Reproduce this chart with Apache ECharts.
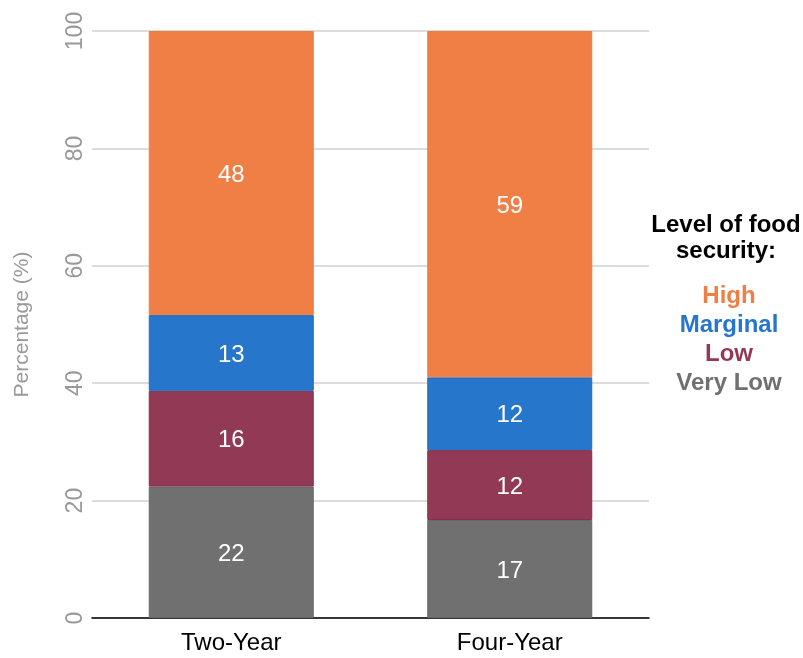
<!DOCTYPE html>
<html>
<head>
<meta charset="utf-8">
<script src="https://cdn.jsdelivr.net/npm/echarts@6/dist/echarts.min.js"></script>
<style>
  html, body { margin: 0; padding: 0; background: #fff; }
  #app { width: 803px; height: 658px; }
</style>
</head>
<body>
<div id="app"></div>
<script>
(function() {
  // categories
  const schoolTypes = ["Two-Year", "Four-Year"];
  // levels, bottom to top
  const levels = ["Very Low", "Low", "Marginal", "High"];
  const levelColors = ["#707070", "#923A55", "#2676CC", "#F07F45"];
  const levelBorders = ["#666666", "#862c48", "#1f6bc0", "#ee7a3e"];
  // series values (percent)
  const veryLow = [22.4, 16.7];
  const low = [16.3, 11.9];
  const marginal = [12.9, 12.4];
  const high = [48.4, 59.0];
  const values = [veryLow, low, marginal, high];
  const yTicks = [0, 20, 40, 60, 80, 100];

  const font = "Liberation Sans, Arial, sans-serif";

  const series = levels.map((name, i) => ({
    name,
    type: "bar",
    stack: "total",
    barWidth: 165,
    data: values[i],
    itemStyle: {
      color: levelColors[i],
      borderColor: levelBorders[i],
      borderWidth: 1
    },
    label: {
      show: true,
      position: "inside",
      color: "#fff",
      fontSize: 24,
      fontFamily: font,
      offset: [0, 2],
      formatter: p => Math.round(p.value)
    }
  }));

  // legend drawn as centred coloured text, top level first
  const legendText = levels
    .map((name, i) => ({ name, color: levelColors[i] }))
    .reverse()
    .map((item, k) => ({
      type: "text",
      x: 729,
      y: 296 + k * 29,
      style: {
        text: item.name,
        fill: item.color,
        font: "bold 24px " + font,
        textAlign: "center",
        textVerticalAlign: "middle"
      }
    }));

  const myChart = echarts.init(document.getElementById("app"));
  const option = {
    animation: false,
    grid: { left: 92, right: 154, top: 31, bottom: 40 },
    xAxis: {
      type: "category",
      data: schoolTypes,
      axisLine: { lineStyle: { color: "#000", width: 1.5 } },
      axisTick: { show: false },
      axisLabel: { color: "#000", fontSize: 24, fontFamily: font, margin: 13 }
    },
    yAxis: {
      type: "value",
      min: yTicks[0],
      max: yTicks[yTicks.length - 1],
      interval: 20,
      name: "Percentage (%)",
      nameLocation: "middle",
      nameGap: 59,
      nameTextStyle: { color: "#999", fontSize: 21, fontFamily: font },
      axisLine: { show: false },
      axisTick: { show: false },
      axisLabel: { color: "#999", fontSize: 23, fontFamily: font, rotate: 90, margin: 5 },
      splitLine: { lineStyle: { color: "#d0d0d0", width: 1.5 } }
    },
    graphic: [
      {
        type: "text",
        x: 726,
        y: 238,
        style: {
          text: "Level of food\nsecurity:",
          fill: "#000",
          font: "bold 24px " + font,
          textAlign: "center",
          textVerticalAlign: "middle",
          lineHeight: 26
        }
      }
    ].concat(legendText),
    series
  };
  myChart.setOption(option);
})();
</script>
</body>
</html>
